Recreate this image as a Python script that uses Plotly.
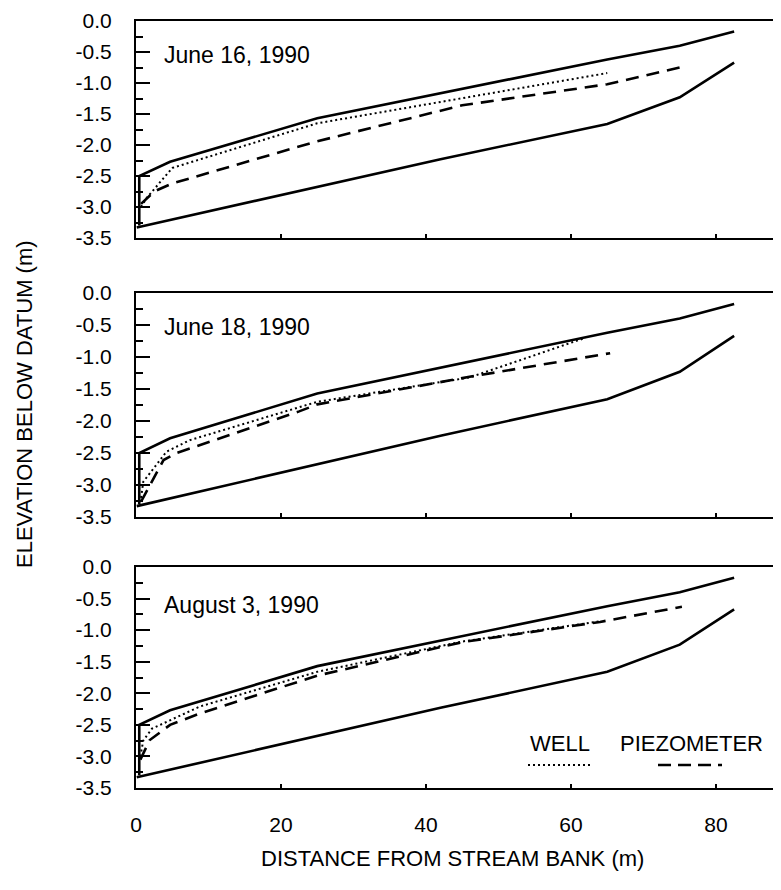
import plotly.graph_objects as go

# ---------------- data ----------------
# ground surface (top solid line incl. stream-bank vertical) - same in all panels
SURF_X = [0.45, 0.45, 4.7, 25, 65, 75, 82.5]
SURF_Y = [-3.3, -2.5, -2.27, -1.57, -0.62, -0.40, -0.17]
# base (bottom solid line)
BASE_X = [0.1, 10, 25, 42, 65, 75, 82.5]
BASE_Y = [-3.33, -3.07, -2.68, -2.23, -1.66, -1.23, -0.67]

# June 16, 1990
WELL1_X = [0.7, 1.5, 5, 25, 65]
WELL1_Y = [-3.0, -2.85, -2.37, -1.65, -0.84]
PIEZ1_X = [0.7, 2.5, 5, 25, 45, 65, 75]
PIEZ1_Y = [-2.95, -2.75, -2.62, -1.94, -1.36, -1.02, -0.75]

# June 18, 1990
WELL2_X = [0.7, 1.0, 4.2, 7.4, 25, 46, 62]
WELL2_Y = [-3.2, -2.95, -2.48, -2.3, -1.7, -1.32, -0.70]
PIEZ2_X = [0.7, 3.8, 5.6, 22.5, 25, 46, 65.4]
PIEZ2_Y = [-3.26, -2.61, -2.5, -1.85, -1.74, -1.31, -0.94]

# August 3, 1990
WELL3_X = [0.6, 1.0, 2.2, 8.8, 25, 45, 64]
WELL3_Y = [-3.0, -2.75, -2.56, -2.21, -1.66, -1.18, -0.86]
PIEZ3_X = [0.6, 1.9, 4.7, 8.8, 25, 45, 64, 75.3]
PIEZ3_Y = [-3.05, -2.74, -2.5, -2.32, -1.72, -1.19, -0.87, -0.63]

DATES = ["June 16, 1990", "June 18, 1990", "August 3, 1990"]
Y_TICKS = [0.0, -0.5, -1.0, -1.5, -2.0, -2.5, -3.0, -3.5]
Y_TICK_LABELS = ["0.0", "-0.5", "-1.0", "-1.5", "-2.0", "-2.5", "-3.0", "-3.5"]
X_TICKS = [0, 20, 40, 60, 80]
X_TICK_LABELS = ["0", "20", "40", "60", "80"]

FONT = "Liberation Sans, Arial, Helvetica, sans-serif"
# page has an 8px body margin: figure sized so the page fits the 781x890 window
W, H = 765, 874
L = 128
PW = W - L
OFF = 8  # body margin (window px -> figure px)


def fy(window_y):
    return window_y - OFF


def fx(window_x):
    return window_x - OFF


panels = [
    (WELL1_X, WELL1_Y, PIEZ1_X, PIEZ1_Y),
    (WELL2_X, WELL2_Y, PIEZ2_X, PIEZ2_Y),
    (WELL3_X, WELL3_Y, PIEZ3_X, PIEZ3_Y),
]
# window-pixel top/bottom of each panel
panel_px = [(21, 238), (293, 517), (567, 788)]
date_px = [55, 327, 605]

fig = go.Figure()
layout = dict(
    template="none",
    width=W, height=H, autosize=False,
    margin=dict(l=L, r=0, t=0, b=0, pad=0),
    paper_bgcolor="white", plot_bgcolor="white",
    showlegend=False,
    font=dict(family=FONT, size=20, color="black"),
)

annotations = []
shapes = []
for i, (wx, wy, px_, py_) in enumerate(panels):
    n = "" if i == 0 else str(i + 1)
    xa, ya = "x" + n, "y" + n
    top, bot = fy(panel_px[i][0]), fy(panel_px[i][1])
    dom = [1 - bot / H, 1 - top / H]
    solid = dict(color="black", width=2.6)
    fig.add_trace(go.Scatter(x=SURF_X, y=SURF_Y, mode="lines", line=solid, xaxis=xa, yaxis=ya))
    fig.add_trace(go.Scatter(x=BASE_X, y=BASE_Y, mode="lines", line=solid, xaxis=xa, yaxis=ya))
    fig.add_trace(go.Scatter(x=wx, y=wy, mode="lines",
                             line=dict(color="black", width=2, dash="2px,3px"), xaxis=xa, yaxis=ya))
    fig.add_trace(go.Scatter(x=px_, y=py_, mode="lines",
                             line=dict(color="black", width=2.6, dash="13px,8px"), xaxis=xa, yaxis=ya))
    last = i == 2
    layout["xaxis" + n] = dict(
        domain=[0, 1], anchor=ya, range=[0, PW / 7.25], automargin=False,
        showline=True, mirror=True, linecolor="black", linewidth=2.2,
        ticks="inside", ticklen=4, tickwidth=2, tickcolor="black",
        tickvals=X_TICKS, ticktext=X_TICK_LABELS,
        showticklabels=last, ticklabelstandoff=17, ticklabeloverflow="allow",
        tickfont=dict(size=21, family=FONT, color="black"),
        showgrid=False, zeroline=False,
    )
    layout["yaxis" + n] = dict(
        domain=dom, anchor=xa, range=[-3.5, 0], automargin=False,
        showline=True, mirror=False, linecolor="black", linewidth=2.2,
        ticks="inside", ticklen=14, tickwidth=2, tickcolor="black",
        tickvals=Y_TICKS, ticktext=Y_TICK_LABELS,
        minor=dict(ticks="inside", ticklen=7, tickwidth=2, tickcolor="black", dtick=0.25, showgrid=False),
        ticklabelstandoff=18, ticklabeloverflow="allow",
        tickfont=dict(size=21, family=FONT, color="black"),
        showgrid=False, zeroline=False,
    )
    annotations.append(dict(
        text=DATES[i], xref=xa + " domain", yref=ya + " domain",
        x=(fx(162) - L) / PW, y=(bot - fy(date_px[i])) / (bot - top),
        xanchor="left", yanchor="middle",
        showarrow=False, font=dict(size=23, family=FONT, color="black"),
    ))

# legend in bottom panel
annotations.append(dict(text="WELL", xref="paper", yref="paper",
                        x=(fx(560) - L) / PW, y=1 - fy(743) / H, xanchor="center", yanchor="middle",
                        showarrow=False, font=dict(size=22, family=FONT, color="black")))
annotations.append(dict(text="PIEZOMETER", xref="paper", yref="paper",
                        x=(fx(691) - L) / PW, y=1 - fy(743) / H, xanchor="center", yanchor="middle",
                        showarrow=False, font=dict(size=22, family=FONT, color="black")))
shapes.append(dict(type="line", xref="paper", yref="paper",
                   x0=(fx(528) - L) / PW, x1=(fx(592) - L) / PW, y0=1 - fy(765) / H, y1=1 - fy(765) / H,
                   line=dict(color="black", width=2, dash="2px,3px")))
shapes.append(dict(type="line", xref="paper", yref="paper",
                   x0=(fx(658) - L) / PW, x1=(fx(722) - L) / PW, y0=1 - fy(765) / H, y1=1 - fy(765) / H,
                   line=dict(color="black", width=2.6, dash="13px,7px")))

# axis titles
annotations.append(dict(text="DISTANCE FROM STREAM BANK (m)", xref="paper", yref="paper",
                        x=(fx(452) - L) / PW, y=1 - fy(858) / H, xanchor="center", yanchor="middle",
                        showarrow=False, font=dict(size=22, family=FONT, color="black")))
annotations.append(dict(text="ELEVATION BELOW DATUM (m)", xref="paper", yref="paper",
                        x=(fx(24) - L) / PW, y=1 - fy(404) / H, xanchor="center", yanchor="middle",
                        textangle=-90, showarrow=False, font=dict(size=22, family=FONT, color="black")))

layout["annotations"] = annotations
layout["shapes"] = shapes
fig.update_layout(**layout)
fig.write_html("out.html")
